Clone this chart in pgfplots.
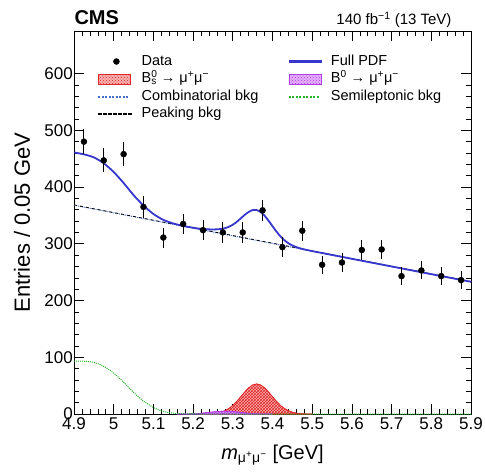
\documentclass[border=0pt]{standalone}
\usepackage{fontspec}
\setmainfont{Liberation Sans}
\usepackage{pgfplots}
\pgfplotsset{compat=1.18}
\usetikzlibrary{patterns}
\definecolor{pdfblue}{RGB}{55,55,205}
\definecolor{combblue}{RGB}{70,110,200}
\definecolor{slgreen}{RGB}{40,180,40}
\definecolor{bsfill}{RGB}{250,175,175}
\definecolor{bsline}{RGB}{225,40,40}
\definecolor{bdfill}{RGB}{228,175,255}
\definecolor{bdline}{RGB}{180,60,230}
\pgfplotsset{
 fulllegend/.style={legend image code/.code={\fill[pdfblue] (0pt,-1pt) rectangle (32pt,1pt);}},
 comblegend/.style={legend image code/.code={\foreach \k in {0,3.5,...,31}{\fill[combblue] (\k pt,-0.6pt) rectangle ++(1.2pt,1.2pt);}}},
 sllegend/.style={legend image code/.code={\foreach \k in {0,3.5,...,31}{\fill[slgreen] (\k pt,-0.6pt) rectangle ++(1.2pt,1.2pt);}}},
 peaklegend/.style={legend image code/.code={\foreach \k in {0,5,...,30}{\fill[black] (\k pt,-0.5pt) rectangle ++(3pt,1pt);}}},
 bslegend/.style={legend image code/.code={\draw[draw=bsline, fill=bsfill, postaction={pattern=crosshatch dots, pattern color=bsline}] (0pt,-5pt) rectangle (32pt,5pt);}},
 bdlegend/.style={legend image code/.code={\draw[draw=bdline, fill=bdfill, postaction={pattern=crosshatch dots, pattern color=bdline}] (0pt,-5pt) rectangle (32pt,5pt);}},
 marklegend/.style={legend image code/.code={\fill[black] (18pt,0pt) circle (3pt);}},
}
\begin{document}
\begin{tikzpicture}
\begin{axis}[name=ax, scale only axis, width=397pt, height=383pt,
 xmin=4.9, xmax=5.9, ymin=0, ymax=675,
 xtick={4.9,5,5.1,5.2,5.3,5.4,5.5,5.6,5.7,5.8,5.9},
 xticklabels={4.9,5,5.1,5.2,5.3,5.4,5.5,5.6,5.7,5.8,5.9},
 ytick={0,100,200,300,400,500,600},
 minor x tick num=4, minor y tick num=4,
 tick align=inside, tick pos=both,
 major tick length=10pt, minor tick length=5pt,
 tick style={black, line width=0.6pt},
 axis line style={line width=0.9pt},
 ticklabel style={font=\fontsize{17}{17}\selectfont},
 /pgf/number format/assume math mode=true,
 yticklabel style={inner xsep=1pt},
 xlabel={\textit{m}\textsubscript{μ\textsuperscript{+}μ\textsuperscript{−}} [GeV]},
 ylabel={Entries / 0.05 GeV},
 xlabel style={font=\fontsize{20}{20}\selectfont, at={(axis description cs:0.5,-0.1175)}, anchor=base},
 ylabel style={font=\fontsize{22}{22}\selectfont, at={(axis description cs:-0.111,0.5)}, anchor=base},
 legend columns=2, legend cell align=left,
 legend style={at={(axis description cs:0.053,0.945)}, anchor=north west, draw=none, fill=none,
   font=\fontsize{14.5}{14.5}\selectfont,
   nodes={inner sep=0pt, text height=11pt, text depth=3.5pt},
   row sep=3pt, column sep=10pt,
   /tikz/every even column/.append style={column sep=30pt}},
]
% B_s signal
\addplot[forget plot, draw=bsline, line width=0.6pt, fill=bsfill, postaction={pattern=crosshatch, pattern color=bsline}] coordinates {
(5.22,0.05) (5.24,0.4) (5.25,0.8) (5.26,1.7) (5.27,3.2) (5.28,5.8) (5.29,9.7) (5.30,15.2)
(5.31,22.3) (5.32,30.5) (5.33,38.8) (5.34,46.1) (5.35,51.2) (5.36,53) (5.37,51.2) (5.38,46.1)
(5.39,38.8) (5.40,30.5) (5.41,22.3) (5.42,15.2) (5.43,9.7) (5.44,5.8) (5.45,3.2) (5.46,1.7)
(5.47,0.8) (5.48,0.4) (5.50,0.05)} \closedcycle;
% B0 signal
\addplot[forget plot, draw=bdline, line width=0.6pt, fill=bdfill, postaction={pattern=crosshatch, pattern color=bdline}] coordinates {
(5.16,0.03) (5.18,0.16) (5.19,0.3) (5.20,0.55) (5.21,0.9) (5.22,1.4) (5.23,2.1) (5.24,2.9)
(5.25,3.66) (5.26,4.35) (5.27,4.8) (5.28,5) (5.29,4.8) (5.30,4.35) (5.31,3.66) (5.32,2.9)
(5.33,2.1) (5.34,1.4) (5.35,0.9) (5.36,0.55) (5.37,0.3) (5.38,0.16) (5.40,0.03)} \closedcycle;
% semileptonic
\addplot[forget plot, color=slgreen, line width=1pt, densely dotted, smooth] coordinates {
(4.900,93) (4.925,93) (4.950,91) (4.975,84) (5.000,72) (5.025,56) (5.050,38) (5.075,23)
(5.100,11.5) (5.125,4.5) (5.150,1.5) (5.175,0.5) (5.200,0.1) (5.250,0) (5.900,0)};
% combinatorial
\addplot[forget plot, color=combblue, line width=1pt, densely dotted] coordinates {(4.9,368) (5.9,233)};
% peaking (stacked)
\addplot[forget plot, color=black, line width=0.8pt, dashed] coordinates {(4.9,368.5) (5.9,233.5)};
% full PDF
\addplot[forget plot, color=pdfblue, line width=1.8pt, smooth, tension=0.4] coordinates {
(4.900,461) (4.925,457.6) (4.950,452.3) (4.975,441.9) (5.000,426.5) (5.025,407.1) (5.050,385.8)
(5.075,367.4) (5.100,352.5) (5.125,342.1) (5.150,335.8) (5.175,331.4) (5.200,328.3) (5.21,327.2)
(5.22,326.3) (5.23,325.7) (5.24,325.4) (5.25,325.2) (5.26,325.5) (5.27,326.1) (5.28,327.5)
(5.29,329.9) (5.30,333.6) (5.31,338.6) (5.32,344.7) (5.33,350.9) (5.34,356.1) (5.35,359.4)
(5.36,359.5) (5.37,356.1) (5.38,349.5) (5.39,340.7) (5.40,331.0) (5.41,321.5) (5.42,313.0)
(5.43,306.2) (5.44,300.9) (5.45,297.0) (5.46,294.1) (5.47,291.9) (5.48,290.1) (5.50,287.1)
(5.60,273.5) (5.70,260) (5.80,246.5) (5.90,233)};
% data
\addplot[forget plot, only marks, mark=*, mark size=3pt, black,
  error bars/.cd, y dir=both, y explicit, error mark=none, error bar style={line width=0.9pt}]
 table[x=x, y=y, y error=e] {
x y e
4.925 480 21.9
4.975 447 21.1
5.025 458 21.4
5.075 365 19.1
5.125 311 17.6
5.175 335 18.3
5.225 324 18.0
5.275 320 17.9
5.325 320 17.9
5.375 359 18.9
5.425 294 17.1
5.475 323 18.0
5.525 263 16.2
5.575 267 16.3
5.625 289 17.0
5.675 290 17.0
5.725 243 15.6
5.775 253 15.9
5.825 243 15.6
5.875 236 15.4
};
% legend
\addlegendimage{marklegend}
\addlegendentry{Data}
\addlegendimage{fulllegend}
\addlegendentry{Full PDF}
\addlegendimage{bslegend}
\addlegendentry{B\makebox[0pt][l]{\textsuperscript{0}}\textsubscript{s} → μ\textsuperscript{+}μ\textsuperscript{−}}
\addlegendimage{bdlegend}
\addlegendentry{B\textsuperscript{0} → μ\textsuperscript{+}μ\textsuperscript{−}}
\addlegendimage{comblegend}
\addlegendentry{Combinatorial bkg}
\addlegendimage{sllegend}
\addlegendentry{Semileptonic bkg}
\addlegendimage{peaklegend}
\addlegendentry{Peaking bkg}
\end{axis}
\node[anchor=base west, font=\bfseries\fontsize{20}{20}\selectfont, xshift=-3pt, yshift=6pt] at (ax.north west) {CMS};
\node[anchor=base east, font=\fontsize{15}{15}\selectfont, xshift=-16pt, yshift=6pt] at (ax.north east) {140 fb\textsuperscript{−1} (13 TeV)};
\pgfresetboundingbox
\path[use as bounding box] ([xshift=-74pt,yshift=-61pt]ax.south west) rectangle ([xshift=14pt,yshift=31pt]ax.north east);
\end{tikzpicture}
\end{document}
